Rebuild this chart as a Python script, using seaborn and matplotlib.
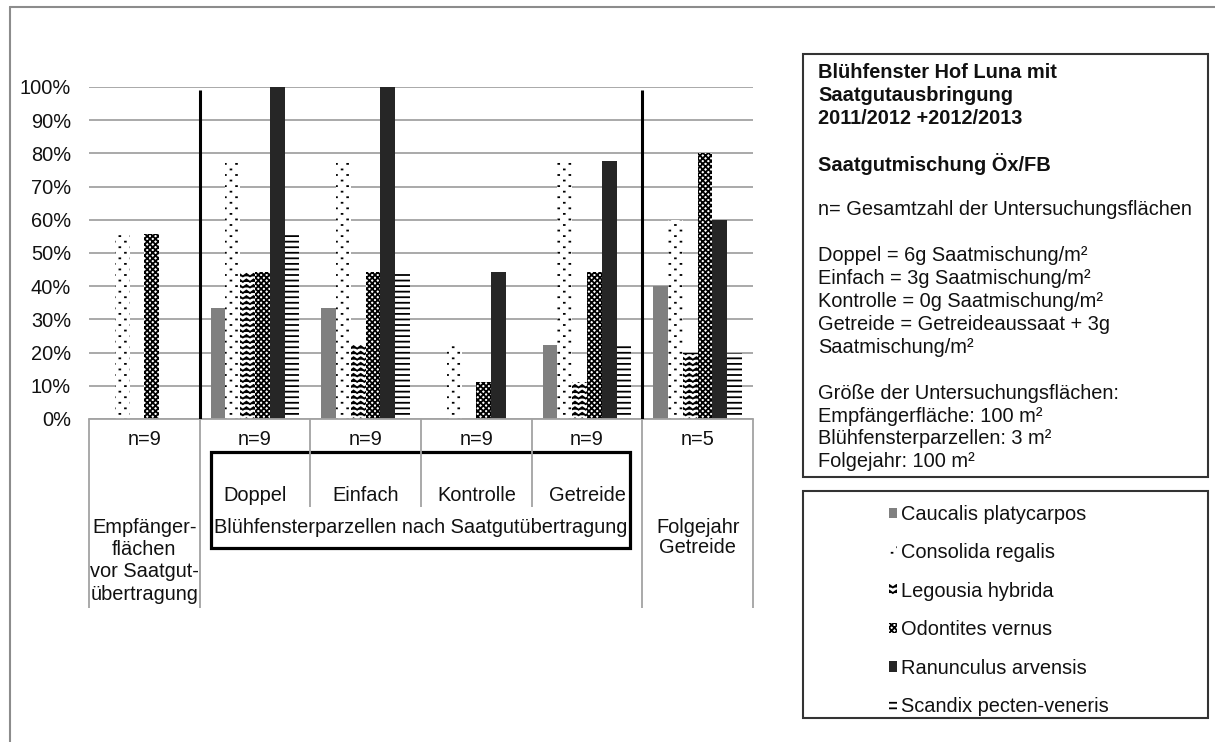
import numpy as np
import pandas as pd
import matplotlib
matplotlib.use("Agg")
import matplotlib.pyplot as plt
import matplotlib.hatch as mhatch
from matplotlib.path import Path
from matplotlib.lines import Line2D
from matplotlib.patches import Rectangle
from matplotlib.ticker import FuncFormatter
import seaborn as sns

# ---------------------------------------------------------------- data
groups = ["Empfänger", "Doppel", "Einfach", "Kontrolle", "Getreide", "Folgejahr"]
n_labels = ["n=9", "n=9", "n=9", "n=9", "n=9", "n=5"]
sub_labels = ["", "Doppel", "Einfach", "Kontrolle", "Getreide", ""]

species = [
    "Caucalis platycarpos",
    "Consolida regalis",
    "Legousia hybrida",
    "Odontites vernus",
    "Ranunculus arvensis",
    "Scandix pecten-veneris",
]

# share of survey plots with the species (%)
caucalis = [0.0, 33.3, 33.3, 0.0, 22.2, 40.0]
consolida = [55.6, 77.8, 77.8, 22.2, 77.8, 60.0]
legousia = [0.0, 44.4, 22.2, 0.0, 11.1, 20.0]
odontites = [55.6, 44.4, 44.4, 11.1, 44.4, 80.0]
ranunculus = [0.0, 100.0, 100.0, 44.4, 77.8, 60.0]
scandix = [0.0, 55.6, 44.4, 0.0, 22.2, 20.0]

y_ticks = list(range(0, 101, 10))

info_lines = [
    ("Blühfenster Hof Luna mit", "bold"),
    ("Saatgutausbringung", "bold"),
    ("2011/2012 +2012/2013", "bold"),
    ("", "normal"),
    ("Saatgutmischung Öx/FB", "bold"),
    ("", "normal"),
    ("n= Gesamtzahl der Untersuchungsflächen", "normal"),
    ("", "normal"),
    ("Doppel = 6g Saatmischung/m²", "normal"),
    ("Einfach = 3g Saatmischung/m²", "normal"),
    ("Kontrolle = 0g Saatmischung/m²", "normal"),
    ("Getreide = Getreideaussaat + 3g", "normal"),
    ("Saatmischung/m²", "normal"),
    ("", "normal"),
    ("Größe der Untersuchungsflächen:", "normal"),
    ("Empfängerfläche: 100 m²", "normal"),
    ("Blühfensterparzellen: 3 m²", "normal"),
    ("Folgejahr: 100 m²", "normal"),
]

df = pd.DataFrame({
    "Gruppe": np.tile(groups, len(species)),
    "Art": np.repeat(species, len(groups)),
    "Anteil": np.concatenate([caucalis, consolida, legousia, odontites,
                              ranunculus, scandix]),
})


# ---------------------------------------------------------------- custom hatches
class ZigZagHatch(mhatch.HatchPatternBase):
    """Stacked horizontal zigzag rows, selected with the '*' hatch symbol."""
    teeth = 14

    def __init__(self, hatch, density):
        self.num_rows = int(hatch.count("*") * density)
        self.num_vertices = self.num_rows * (2 * self.teeth + 1)

    def set_vertices_and_codes(self, vertices, codes):
        n = 2 * self.teeth + 1
        xs = np.linspace(0.0, 1.0, n)
        step = 1.0 / self.num_rows
        amp = 0.45 * step
        for i in range(self.num_rows):
            y0 = (i + 0.25) * step
            seg = slice(i * n, (i + 1) * n)
            vertices[seg, 0] = xs
            vertices[seg, 1] = y0 + amp * (np.arange(n) % 2)
            codes[seg] = Path.LINETO
            codes[i * n] = Path.MOVETO


class SparseDotHatch(mhatch.HatchPatternBase):
    """Tiny staggered dots, selected with the 'o' hatch symbol."""

    def __init__(self, hatch, density):
        self.num_rows = int(hatch.count("o") * density)
        self.cols = max(self.num_rows // 2, 1)
        self.num_vertices = 2 * self.num_rows * self.cols

    def set_vertices_and_codes(self, vertices, codes):
        k = 0
        d = 0.008
        for i in range(self.num_rows):
            y = (i + 0.5) / self.num_rows
            shift = 0.5 if i % 2 else 0.0
            for j in range(self.cols):
                x = (j + 0.25 + shift) / self.cols
                vertices[k] = (x, y)
                vertices[k + 1] = (x + d, y)
                codes[k] = Path.MOVETO
                codes[k + 1] = Path.LINETO
                k += 2


mhatch._hatch_types[mhatch._hatch_types.index(mhatch.Stars)] = ZigZagHatch
mhatch._hatch_types[mhatch._hatch_types.index(mhatch.SmallCircles)] = SparseDotHatch

# ---------------------------------------------------------------- style
sns.set_style("white")
plt.rcParams["font.family"] = ["Liberation Sans", "DejaVu Sans"]
plt.rcParams["hatch.linewidth"] = 1.3
FS = 14.4
TXT = "#111111"
GRID = "#a3a3a3"

face = {
    "Caucalis platycarpos": "#808080",
    "Consolida regalis": "#ffffff",
    "Legousia hybrida": "#ffffff",
    "Odontites vernus": "#ffffff",
    "Ranunculus arvensis": "#262626",
    "Scandix pecten-veneris": "#ffffff",
}
hatches = ["", "ooo", "***", "xxxxxx", "", "---"]

fig = plt.figure(figsize=(12.15, 7.42), dpi=100)
ax = fig.add_axes([89 / 1215, 1 - 419 / 742, 664 / 1215, 332 / 742])

sns.barplot(data=df, x="Gruppe", y="Anteil", hue="Art", hue_order=species,
            order=groups, palette=face, saturation=1, width=0.8, gap=0,
            errorbar=None, legend=False, ax=ax)

for cont, h in zip(ax.containers, hatches):
    for bar in cont:
        bar.set_hatch(h if h else None)
        bar.set_edgecolor("black")
        bar.set_linewidth(0)

ax.set_xlim(-0.5, len(groups) - 0.5)
ax.set_ylim(0, 100)
ax.set_yticks(y_ticks)
ax.yaxis.set_major_formatter(FuncFormatter(lambda v, _: f"{v:.0f}%"))
ax.tick_params(axis="y", length=0, pad=13, labelsize=FS, labelcolor=TXT)
ax.set_xticks(range(len(groups)), n_labels)
ax.tick_params(axis="x", length=0, pad=8, labelsize=FS, labelcolor=TXT)
ax.set_xlabel("")
ax.set_ylabel("")
ax.yaxis.grid(True, color=GRID, lw=1.3)
ax.set_axisbelow(True)
for s in ("left", "right", "top"):
    ax.spines[s].set_visible(False)
ax.spines["bottom"].set_color(GRID)
ax.spines["bottom"].set_linewidth(1.3)

# heavy dividers between the three phases
ax.vlines([0.5, 4.5], 0, 99, colors="black", lw=2.2, zorder=3)

# category table below the axis
xt = ax.get_xaxis_transform()
ax.vlines([-0.5, 0.5, 4.5, 5.5], -0.569, 0, colors=GRID, lw=1.3,
          transform=xt, clip_on=False)
ax.vlines([1.5, 2.5, 3.5], -0.265, 0, colors=GRID, lw=1.3,
          transform=xt, clip_on=False)
for i, lab in enumerate(sub_labels):
    if lab:
        ax.text(i, -0.229, lab, transform=xt, ha="center", va="center",
                fontsize=FS, color=TXT)
ax.text(0, -0.297, "Empfänger-\nflächen\nvor Saatgut-\nübertragung",
        transform=xt, ha="center", va="top", fontsize=FS, color=TXT,
        linespacing=1.22)
ax.text(2.5, -0.297, "Blühfensterparzellen nach Saatgutübertragung",
        transform=xt, ha="center", va="top", fontsize=FS, color=TXT)
ax.text(5, -0.297, "Folgejahr\nGetreide", transform=xt, ha="center",
        va="top", fontsize=FS, color=TXT, linespacing=1.1)
ax.add_patch(Rectangle((0.6, -0.389), 3.79, 0.29, transform=xt, fill=False,
                       ec="black", lw=2.3, clip_on=False))

# outer frame
fig.add_artist(Line2D([10 / 1215, 1], [1 - 7 / 742] * 2, color="#8c8c8c",
                      lw=1.5))
fig.add_artist(Line2D([10 / 1215] * 2, [0, 1 - 7 / 742], color="#8c8c8c",
                      lw=1.5))

# info box
fig.add_artist(Rectangle((803 / 1215, 1 - 477 / 742), 405 / 1215, 423 / 742,
                         transform=fig.transFigure, fill=False,
                         ec="#333333", lw=1.5))
for k, (line, weight) in enumerate(info_lines):
    if line:
        fig.text(818 / 1215, 1 - (72.5 + 22.9 * k) / 742, line, ha="left",
                 va="center", fontsize=FS, fontweight=weight, color=TXT)

# legend box
fig.add_artist(Rectangle((803 / 1215, 1 - 718 / 742), 405 / 1215, 227 / 742,
                         transform=fig.transFigure, fill=False,
                         ec="#333333", lw=1.5))
fig.legend(ax.containers, species, loc="upper left",
           bbox_to_anchor=(889 / 1215, 1 - 505 / 742), frameon=False,
           borderpad=0, borderaxespad=0, handlelength=0.42,
           handleheight=0.42, handletextpad=0.2, labelspacing=0.97,
           fontsize=FS, labelcolor=TXT)

fig.savefig("out.png", dpi=100)
